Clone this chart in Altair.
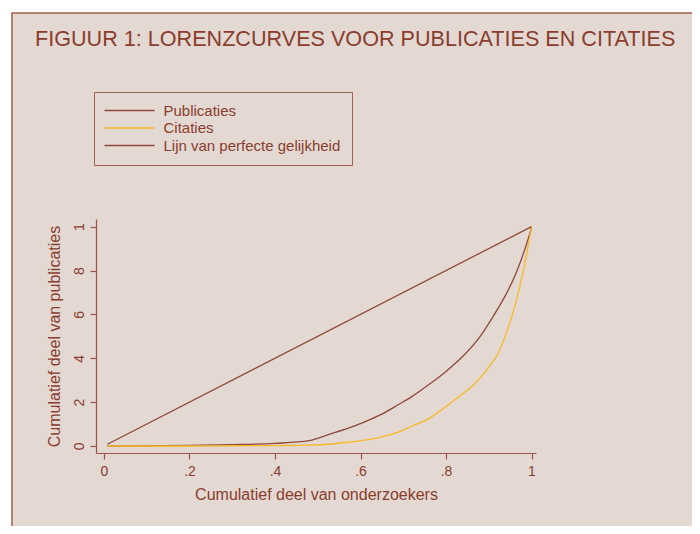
import altair as alt
import pandas as pd

# ---- data ----
series_names = ["Publicaties", "Citaties", "Lijn van perfecte gelijkheid"]

pub_x = [0.008, 0.10, 0.20, 0.30, 0.40, 0.48, 0.53, 0.57, 0.61, 0.65, 0.69, 0.72,
         0.76, 0.80, 0.84, 0.88, 0.91, 0.94, 0.96, 0.975, 0.99, 1.0]
pub_y = [0.0, 0.001, 0.003, 0.006, 0.012, 0.024, 0.055, 0.08, 0.11, 0.145, 0.19, 0.225,
         0.28, 0.34, 0.41, 0.50, 0.59, 0.69, 0.77, 0.845, 0.93, 0.995]

cit_x = [0.008, 0.20, 0.30, 0.40, 0.48, 0.53, 0.57, 0.61, 0.65, 0.69, 0.72, 0.76,
         0.80, 0.83, 0.864, 0.90, 0.92, 0.94, 0.96, 0.98, 0.99, 1.0]
cit_y = [0.0, 0.0, 0.001, 0.002, 0.004, 0.009, 0.017, 0.027, 0.042, 0.064, 0.09, 0.125,
         0.18, 0.225, 0.278, 0.36, 0.415, 0.51, 0.63, 0.79, 0.89, 1.0]

eq_x = [0.008, 1.0]
eq_y = [0.008, 1.0]

x_ticks = [0, 0.2, 0.4, 0.6, 0.8, 1]
x_tick_labels = ["0", ".2", ".4", ".6", ".8", "1"]
y_ticks = [0, 0.2, 0.4, 0.6, 0.8, 1]
y_tick_labels = ["0", "2", "4", "6", "8", "1"]

title_text = "FIGUUR 1: LORENZCURVES VOOR PUBLICATIES EN CITATIES"
x_title = "Cumulatief deel van onderzoekers"
y_title = "Cumulatief deel van publicaties"

# ---- styling ----
BG = "#e3d8d2"
FRAME = "#a0604f"
TXT = "#8a3d2e"
AXIS = "#9a5646"
BROWN = "#8e4a3a"
YELLOW = "#f6b926"
FONT = "Liberation Sans"

rows = []
for name, xs, ys in [(series_names[0], pub_x, pub_y),
                     (series_names[1], cit_x, cit_y),
                     (series_names[2], eq_x, eq_y)]:
    for i, (a, b) in enumerate(zip(xs, ys)):
        rows.append({"serie": name, "x": a, "y": b, "ord": i})
df = pd.DataFrame(rows)


def label_expr(ticks, labels):
    parts = " : ".join(
        f"abs(datum.value - {t}) < 1e-6 ? '{l}'" for t, l in zip(ticks, labels)
    )
    return parts + " : ''"


frame = alt.Chart(alt.Data(values=[{}])).mark_rect(
    fill=BG, stroke=FRAME, strokeWidth=1.5
).encode(
    x=alt.value(-84), x2=alt.value(700),
    y=alt.value(-206), y2=alt.value(400),
)

lines = alt.Chart(df).mark_line(strokeWidth=1.3, interpolate="monotone").encode(
    x=alt.X("x:Q",
            scale=alt.Scale(domain=[-0.0187, 1.0105], nice=False, zero=False),
            axis=alt.Axis(values=x_ticks, labelExpr=label_expr(x_ticks, x_tick_labels),
                          title=x_title, titlePadding=8, labelPadding=5, zindex=2)),
    y=alt.Y("y:Q",
            scale=alt.Scale(domain=[-0.032, 1.035], nice=False, zero=False),
            axis=alt.Axis(values=y_ticks, labelExpr=label_expr(y_ticks, y_tick_labels),
                          title=y_title, labelAngle=270, labelAlign="center",
                          labelBaseline="alphabetic", labelPadding=7, titlePadding=10,
                          zindex=2)),
    color=alt.Color("serie:N",
                    scale=alt.Scale(domain=series_names, range=[BROWN, YELLOW, BROWN]),
                    legend=alt.Legend(orient="none", legendX=-2, legendY=-127, title=None,
                                      symbolType="M-5,0H5", symbolSize=100,
                                      symbolStrokeWidth=1.3, labelFontSize=15,
                                      labelFont=FONT, labelColor=TXT, strokeColor=FRAME,
                                      padding=11, rowPadding=1.5, labelOffset=26.5,
                                      symbolOffset=17, labelLimit=400,
                                      direction="vertical")),
    order="ord:Q",
    detail="serie:N",
)

chart = alt.layer(frame, lines).properties(
    width=440, height=234,
    autosize=alt.AutoSizeParams(type="none"),
    padding={"left": 88, "top": 211, "right": 156, "bottom": 73},
    background="#ffffff",
    title=alt.TitleParams(title_text, anchor="start", frame="group", offset=-38, dx=-61,
                          fontSize=21.6, font=FONT, fontWeight="normal", color=TXT),
).configure_view(stroke=None).configure_axis(
    grid=False, domainColor=AXIS, tickColor=AXIS, tickSize=6, domainWidth=1.2,
    tickWidth=1.2, labelColor=TXT, labelFont=FONT, labelFontSize=14,
    titleColor=TXT, titleFont=FONT, titleFontSize=16, titleFontWeight="normal",
)

chart.save("out.html", embed_options={"renderer": "svg", "actions": False})
